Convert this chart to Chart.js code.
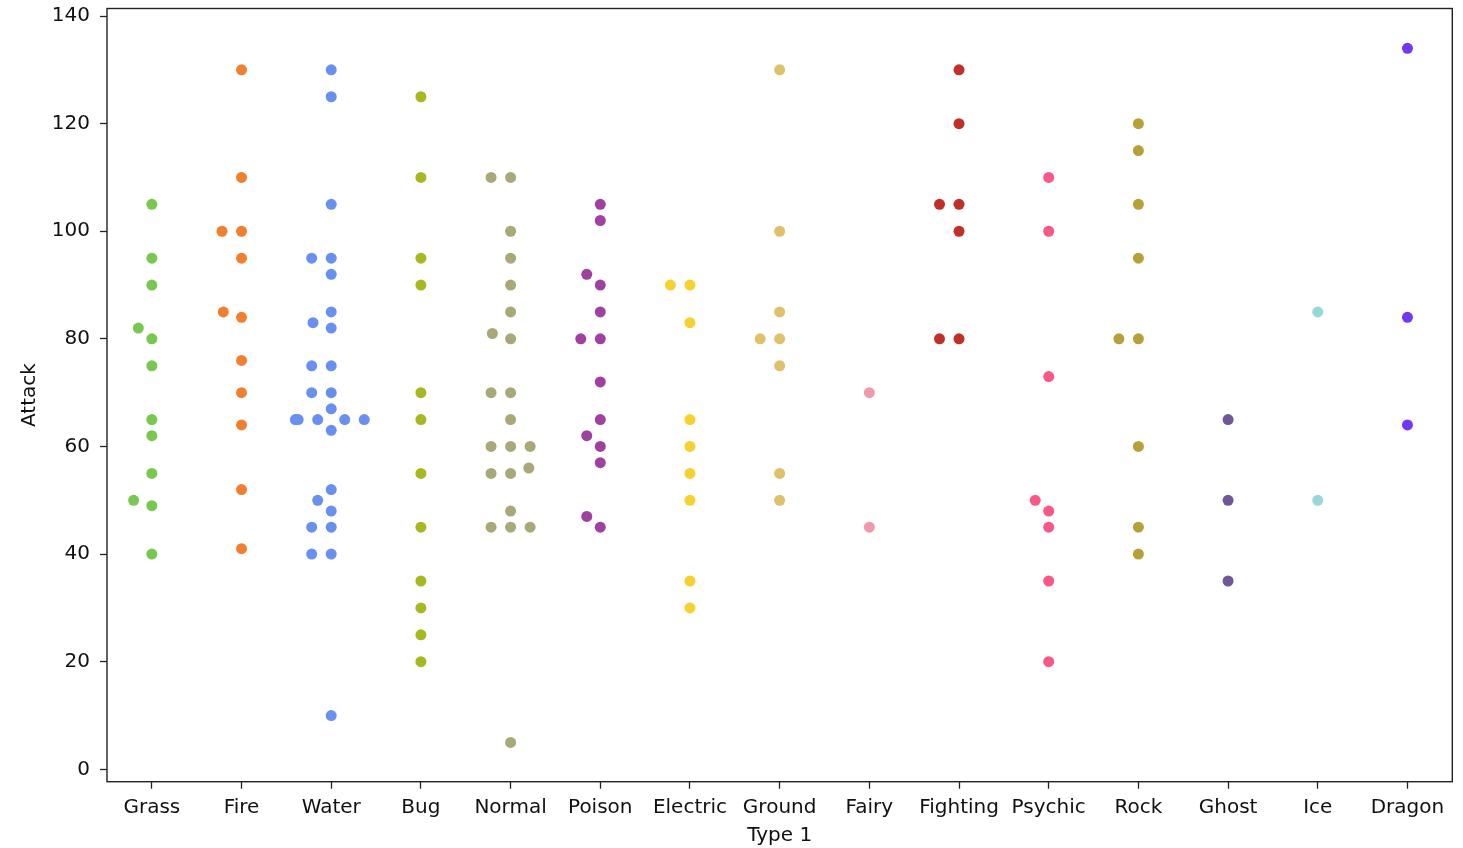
<!DOCTYPE html>
<html lang="en">
<head>
    <meta charset="UTF-8">
    <title>Attack by Type 1 - swarm</title>
    <!-- Chart.js -->
    <script src="https://cdn.jsdelivr.net/npm/chart.js"></script>
    <style>
        html, body {
            margin: 0;
            padding: 0;
            background: #fff;
        }
        #wrap {
            width: 1463px;
            height: 848px;
        }
    </style>
</head>
<body>
    <div id="wrap"><canvas id="swarmChart" width="1463" height="848"></canvas></div>

    <script>
        // categories (x axis) and one attack list per type
        const types = ['Grass', 'Fire', 'Water', 'Bug', 'Normal', 'Poison', 'Electric', 'Ground',
                       'Fairy', 'Fighting', 'Psychic', 'Rock', 'Ghost', 'Ice', 'Dragon'];

        const grassAttack = [105, 95, 90, 82, 80, 75, 65, 62, 55, 50, 49, 40];
        const fireAttack = [130, 110, 100, 100, 95, 85, 84, 76, 70, 64, 52, 41];
        const waterAttack = [130, 125, 105, 95, 95, 92, 85, 83, 82, 75, 75, 70, 70, 67,
                             65, 65, 65, 65, 65, 63, 52, 50, 48, 45, 45, 40, 40, 10];
        const bugAttack = [125, 110, 95, 90, 70, 65, 55, 45, 35, 30, 25, 20];
        const normalAttack = [110, 110, 100, 95, 90, 85, 81, 80, 70, 70, 65, 60, 60, 60,
                              56, 55, 55, 48, 45, 45, 45, 5];
        const poisonAttack = [105, 102, 92, 90, 85, 80, 80, 72, 65, 62, 60, 57, 47, 45];
        const electricAttack = [90, 90, 83, 65, 60, 55, 50, 35, 30];
        const groundAttack = [130, 100, 85, 80, 80, 75, 55, 50];
        const fairyAttack = [70, 45];
        const fightingAttack = [130, 120, 105, 105, 100, 80, 80];
        const psychicAttack = [110, 100, 73, 50, 48, 45, 35, 20];
        const rockAttack = [120, 115, 105, 95, 80, 80, 60, 45, 40];
        const ghostAttack = [65, 50, 35];
        const iceAttack = [85, 50];
        const dragonAttack = [134, 84, 64];

        const typeColors = ['#78C850', '#F08030', '#6890F0', '#A8B820', '#A8A878', '#A040A0',
                            '#F8D030', '#E0C068', '#EE99AC', '#C03028', '#F85888', '#B8A038',
                            '#705898', '#98D8D8', '#7038F8'];

        const yTicks = [0, 20, 40, 60, 80, 100, 120, 140];

        const attackByType = [grassAttack, fireAttack, waterAttack, bugAttack, normalAttack,
                              poisonAttack, electricAttack, groundAttack, fairyAttack,
                              fightingAttack, psychicAttack, rockAttack, ghostAttack,
                              iceAttack, dragonAttack];

        // swarm footprint of one point, in pixels (horizontal / vertical)
        const SWARM_W = 18.6;
        const SWARM_H = 14.9;

        // seaborn-like beeswarm: place points from low to high value,
        // each at the free spot closest to the category centre
        function swarmOffsets(values, yScale, catPx) {
            const order = values.map((v, i) => i).sort((a, b) => values[a] - values[b]);
            const placed = [];
            const out = new Array(values.length).fill(0);
            order.forEach(idx => {
                const y = yScale.getPixelForValue(values[idx]);
                const neighbors = [];
                for (let k = placed.length - 1; k >= 0; k--) {
                    if (Math.abs(placed[k].y - y) < SWARM_H) neighbors.unshift(placed[k]);
                    else break;
                }
                const cands = [0];
                let leftFirst = true;
                neighbors.forEach(n => {
                    const u = (y - n.y) / SWARM_H;
                    const dx = Math.sqrt(Math.max(1 - u * u, 0)) * SWARM_W * 1.05;
                    if (leftFirst) cands.push(n.x - dx, n.x + dx);
                    else cands.push(n.x + dx, n.x - dx);
                    leftFirst = !leftFirst;
                });
                cands.sort((a, b) => Math.abs(a) - Math.abs(b));
                const x = cands.find(c => neighbors.every(n => {
                    const ex = (c - n.x) / SWARM_W;
                    const ey = (y - n.y) / SWARM_H;
                    return ex * ex + ey * ey >= 0.999999;
                }));
                placed.push({ x: x, y: y });
                // gutter: keep inside 80% of the category width
                const half = 0.4 * catPx;
                out[idx] = Math.max(-half, Math.min(half, x)) / catPx;
            });
            return out;
        }

        const frame = {
            id: 'frame',
            afterDatasetsDraw(chart) {
                const { ctx, chartArea: a } = chart;
                ctx.save();
                ctx.strokeStyle = '#222';
                ctx.lineWidth = 1.4;
                ctx.strokeRect(a.left, a.top, a.right - a.left, a.bottom - a.top);
                ctx.restore();
            }
        };

        Chart.defaults.font.family = "'DejaVu Sans', sans-serif";
        Chart.defaults.color = '#111';

        const tickFont = { family: "'DejaVu Sans', sans-serif", size: 20 };

        const chart = new Chart(document.getElementById('swarmChart').getContext('2d'), {
            type: 'scatter',
            data: {
                datasets: types.map((t, i) => ({
                    label: t,
                    data: attackByType[i].map(v => ({ x: i, y: v })),
                    backgroundColor: typeColors[i],
                    borderColor: typeColors[i],
                    borderWidth: 0,
                    pointRadius: 5.5,
                    pointHoverRadius: 5.5
                }))
            },
            options: {
                responsive: false,
                animation: false,
                layout: { padding: { left: 0, top: 8.5, right: 10.7, bottom: 0 } },
                plugins: {
                    legend: { display: false },
                    tooltip: { enabled: false }
                },
                scales: {
                    x: {
                        type: 'linear',
                        min: -0.5,
                        max: 14.5,
                        afterBuildTicks: s => { s.ticks = types.map((t, i) => ({ value: i })); },
                        afterFit: s => { s.height = 66.3; s.paddingLeft = 0; s.paddingRight = 0; },
                        ticks: {
                            autoSkip: false,
                            maxRotation: 0,
                            padding: 7,
                            font: tickFont,
                            color: '#111',
                            callback: v => types[v]
                        },
                        grid: { drawOnChartArea: false, drawTicks: true, tickLength: 7, tickColor: '#222', tickWidth: 1.3 },
                        border: { display: false },
                        title: { display: true, text: 'Type 1', font: tickFont, color: '#111', padding: { top: 0, bottom: 0 } }
                    },
                    y: {
                        type: 'linear',
                        min: -2.3,
                        max: 141.4,
                        afterBuildTicks: s => { s.ticks = yTicks.map(v => ({ value: v })); },
                        afterFit: s => { s.width = 107; s.paddingTop = 0; s.paddingBottom = 0; },
                        ticks: {
                            padding: 10,
                            font: tickFont,
                            color: '#111',
                            callback: v => v
                        },
                        grid: { drawOnChartArea: false, drawTicks: true, tickLength: 7, tickColor: '#222', tickWidth: 1.3 },
                        border: { display: false },
                        title: { display: true, text: 'Attack', font: tickFont, color: '#111', padding: { top: 18, bottom: 0 } }
                    }
                }
            },
            plugins: [frame]
        });

        // second pass: spread points sideways using the laid-out scales
        const xs = chart.scales.x;
        const ys = chart.scales.y;
        const catPx = xs.getPixelForValue(1) - xs.getPixelForValue(0);
        chart.data.datasets.forEach((ds, i) => {
            const offs = swarmOffsets(attackByType[i], ys, catPx);
            ds.data = attackByType[i].map((v, j) => ({ x: i + offs[j], y: v }));
        });
        chart.update('none');
    </script>
</body>
</html>
